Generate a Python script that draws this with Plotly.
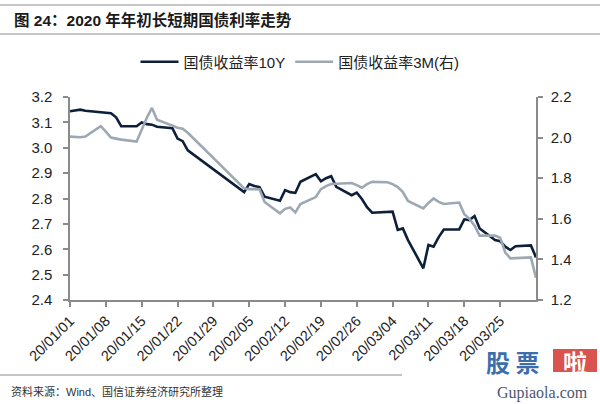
import pandas as pd
import plotly.graph_objects as go

dates = ["2019-12-31","2020-01-02","2020-01-03","2020-01-06","2020-01-07","2020-01-08","2020-01-09",
         "2020-01-10","2020-01-13","2020-01-14","2020-01-15","2020-01-16","2020-01-17","2020-01-20",
         "2020-01-21","2020-01-22","2020-01-23",
         "2020-02-03","2020-02-04","2020-02-05","2020-02-06","2020-02-07","2020-02-10","2020-02-11",
         "2020-02-12","2020-02-13","2020-02-14","2020-02-17","2020-02-18","2020-02-19","2020-02-20",
         "2020-02-21","2020-02-24","2020-02-25","2020-02-26","2020-02-27","2020-02-28",
         "2020-03-02","2020-03-03","2020-03-04","2020-03-05","2020-03-06","2020-03-09","2020-03-10",
         "2020-03-11","2020-03-12","2020-03-13","2020-03-16","2020-03-17","2020-03-18","2020-03-19",
         "2020-03-20","2020-03-23","2020-03-24","2020-03-25","2020-03-26","2020-03-27","2020-03-30",
         "2020-03-31"]

yield_10y = [3.144, 3.150, 3.146, 3.140, 3.137, 3.136, 3.120, 3.085, 3.085, 3.100, 3.093, 3.091, 3.083,
             3.077, 3.036, 3.026, 2.990,
             2.825, 2.857, 2.849, 2.845, 2.807, 2.791, 2.833, 2.825, 2.822, 2.866, 2.896, 2.868, 2.880,
             2.888, 2.846, 2.813, 2.823, 2.798, 2.766, 2.744,
             2.747, 2.748, 2.676, 2.682, 2.636, 2.525, 2.617, 2.610, 2.648, 2.678, 2.678, 2.718, 2.715,
             2.731, 2.682, 2.636, 2.632, 2.610, 2.597, 2.612, 2.615, 2.568]

yield_3m = [2.005, 2.002, 2.005, 2.056, 2.029, 2.000, 1.995, 1.990, 1.980, 2.044, 2.098, 2.146, 2.088,
            2.059, 2.049, 2.044, 2.024,
            1.750, 1.746, 1.746, 1.745, 1.683, 1.627, 1.649, 1.656, 1.631, 1.673, 1.707, 1.746, 1.761,
            1.771, 1.773, 1.776, 1.766, 1.753, 1.771, 1.782,
            1.780, 1.771, 1.756, 1.732, 1.688, 1.651, 1.678, 1.700, 1.683, 1.673, 1.680, 1.623, 1.600,
            1.566, 1.517, 1.517, 1.507, 1.434, 1.405, 1.407, 1.410, 1.310]

tick_labels = ["20/01/01","20/01/08","20/01/15","20/01/22","20/01/29","20/02/05","20/02/12",
               "20/02/19","20/02/26","20/03/04","20/03/11","20/03/18","20/03/25"]

name_10y = "国债收益率10Y"
name_3m = "国债收益率3M(右)"
title_text = "图 24：2020 年年初长短期国债利率走势"
source_text = "资料来源：Wind、国信证券经济研究所整理"

W, H = 600, 404
L, R, T, B = 70, 64, 97, 104
PW, PH = W - L - R, H - T - B

def px(x):
    return (x - L) / PW

def py(y):
    return (H - B - y) / PH

tick_vals = [pd.Timestamp("20" + t.replace("/", "-")) - pd.Timedelta(days=1) for t in tick_labels]

CJK = "Liberation Sans, Noto Sans CJK SC, sans-serif"
AX = "#8a8a8a"

fig = go.Figure()
fig.add_trace(go.Scatter(x=pd.to_datetime(dates), y=yield_10y, name=name_10y, mode="lines",
                         line=dict(color="#0e1f3a", width=2.6)))
fig.add_trace(go.Scatter(x=pd.to_datetime(dates), y=yield_3m, name=name_3m, mode="lines",
                         line=dict(color="#9ea8b3", width=2.6), yaxis="y2"))

fig.update_layout(
    width=W, height=H,
    margin=dict(l=L, r=R, t=T, b=B),
    paper_bgcolor="white", plot_bgcolor="white",
    font=dict(family=CJK, size=15, color="#222"),
    showlegend=True,
    legend=dict(orientation="h", x=px(300), xanchor="center", y=py(62), yanchor="middle",
                font=dict(size=15, color="#222"), bgcolor="rgba(0,0,0,0)",
                itemwidth=38, tracegroupgap=0),
    xaxis=dict(type="date", range=["2019-12-31", "2020-03-31"],
               tickvals=tick_vals, ticktext=tick_labels, tickangle=-45,
               showgrid=False, zeroline=False, showline=True, linecolor=AX, linewidth=1.5,
               ticks="outside", ticklen=5, tickcolor=AX, tickwidth=1.5,
               tickfont=dict(size=14.5, color="#222")),
    yaxis=dict(range=[2.4, 3.2], dtick=0.1, tickformat=".1f", showgrid=False, zeroline=False,
               showline=True, linecolor=AX, linewidth=1.5, ticks="outside", ticklen=5,
               tickcolor=AX, tickwidth=1.5, tickfont=dict(size=15, color="#222"),
               ticklabelstandoff=8),
    yaxis2=dict(range=[1.2, 2.2], dtick=0.2, tickformat=".1f", overlaying="y", side="right",
                showgrid=False, zeroline=False, showline=True, linecolor=AX, linewidth=1.5,
                ticks="outside", ticklen=5, tickcolor=AX, tickwidth=1.5,
                tickfont=dict(size=15, color="#222"), ticklabelstandoff=5),
)

shapes = [
    dict(type="line", xref="paper", yref="paper", x0=px(0), x1=px(600), y0=py(5), y1=py(5),
         line=dict(color="#8c8c8c", width=1)),
    dict(type="line", xref="paper", yref="paper", x0=px(0), x1=px(600), y0=py(34), y1=py(34),
         line=dict(color="#8c8c8c", width=1)),
    dict(type="line", xref="paper", yref="paper", x0=px(0), x1=px(402), y0=py(375), y1=py(375),
         line=dict(color="#8c8c8c", width=1)),
    dict(type="rect", xref="paper", yref="paper", x0=px(553), x1=px(597), y0=py(372), y1=py(349),
         fillcolor="#d9534f", line=dict(width=0)),
]
fig.update_layout(shapes=shapes)

annotations = [
    dict(text="<b>" + title_text + "</b>", xref="paper", yref="paper", x=px(12), y=py(20),
         xanchor="left", yanchor="middle", showarrow=False,
         font=dict(family=CJK, size=15.5, color="#1a1a1a")),
    dict(text=source_text, xref="paper", yref="paper", x=px(9), y=py(391),
         xanchor="left", yanchor="middle", showarrow=False,
         font=dict(family=CJK, size=11, color="#333")),
    dict(text="<b>股 票</b>", xref="paper", yref="paper", x=px(484), y=py(361),
         xanchor="left", yanchor="middle", showarrow=False,
         font=dict(family="Noto Sans CJK SC", size=24, color="#3b6eab")),
    dict(text="<b>啦</b>", xref="paper", yref="paper", x=px(575), y=py(361),
         xanchor="center", yanchor="middle", showarrow=False,
         font=dict(family="Noto Sans CJK SC", size=24, color="white")),
    dict(text="Gupiaola.com", xref="paper", yref="paper", x=px(590), y=py(393),
         xanchor="right", yanchor="middle", showarrow=False,
         font=dict(family="Liberation Serif, serif", size=16, color="#4a5870")),
]
fig.update_layout(annotations=annotations)

fig.write_html("out.html")
